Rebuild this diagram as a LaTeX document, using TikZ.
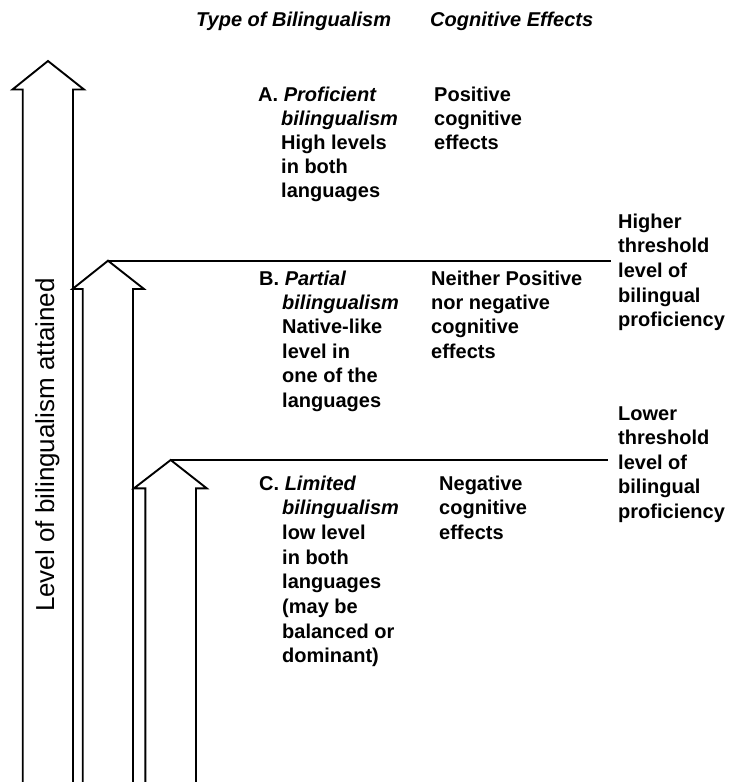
\documentclass[tikz,border=0pt]{standalone}
\usepackage{fontspec}
\setmainfont{Liberation Sans}
\newcommand{\tlines}[2]{{\fontsize{20}{#1}\selectfont\begin{tabular}[t]{@{}l@{}}#2\end{tabular}}}
\newcommand{\ind}{\hspace*{23pt}}
\begin{document}
\begin{tikzpicture}[x=1pt,y=-1pt,
  txt/.style={anchor=base west, inner sep=0pt, font=\bfseries},
  head/.style={anchor=base west, inner sep=0pt, font=\fontsize{20}{24}\selectfont\bfseries\itshape},
  arr/.style={draw=black, line width=1.9pt, line join=miter},
  thr/.style={draw=black, line width=1.7pt}]
\useasboundingbox (0,0) rectangle (730,782);

% arrows
\draw[arr] (22.7,782) -- (22.7,89.5) -- (12.5,89.5) -- (48,61) coordinate (tip1) -- (84,89.5) -- (73,89.5) -- (73,782);
\draw[arr] (82.7,782) -- (82.7,289) -- (72.5,289) -- (108,260.7) coordinate (tip2) -- (144,289) -- (133,289) -- (133,782);
\draw[arr] (145.3,782) -- (145.3,488.3) -- (134,488.3) -- (170.7,460) coordinate (tip3) -- (206.7,488.3) -- (196,488.3) -- (196,782);

% threshold lines
\coordinate (h1) at (611,260.7);
\coordinate (h2) at (608,460);
\draw[thr] (tip2) -- (h1);
\draw[thr] (tip3) -- (h2);

% vertical label
\node[rotate=90, inner sep=0pt, font=\fontsize{26}{30}\selectfont] (lvl) at (47.5,445) {Level of bilingualism attained};

% headers
\node[head] (htype) at (196,26) {Type of Bilingualism};
\node[head] (hcog) at (430,26) {Cognitive Effects};

% type blocks
\node[txt] (A) at (258,101.5) {\tlines{24}{A. \textit{Proficient}\\ \ind\textit{bilingualism}\\ \ind High levels\\ \ind in both\\ \ind languages}};
\node[txt] (B) at (259,285) {\tlines{24.4}{B. \textit{Partial}\\ \ind\textit{bilingualism}\\ \ind Native-like\\ \ind level in\\ \ind one of the\\ \ind languages}};
\node[txt] (C) at (259,490) {\tlines{24.7}{C. \textit{Limited}\\ \ind\textit{bilingualism}\\ \ind low level\\ \ind in both\\ \ind languages\\ \ind (may be\\ \ind balanced or\\ \ind dominant)}};

% effects
\node[txt] (EA) at (434,101.5) {\tlines{24}{Positive\\ cognitive\\ effects}};
\node[txt] (EB) at (431,285) {\tlines{24.4}{Neither Positive\\ nor negative\\ cognitive\\ effects}};
\node[txt] (EC) at (439,490) {\tlines{24.7}{Negative\\ cognitive\\ effects}};

% thresholds
\node[txt] (TH) at (618,228.3) {\tlines{24.6}{Higher\\ threshold\\ level of\\ bilingual\\ proficiency}};
\node[txt] (TL) at (618,420) {\tlines{24.5}{Lower\\ threshold\\ level of\\ bilingual\\ proficiency}};
\end{tikzpicture}
\end{document}
